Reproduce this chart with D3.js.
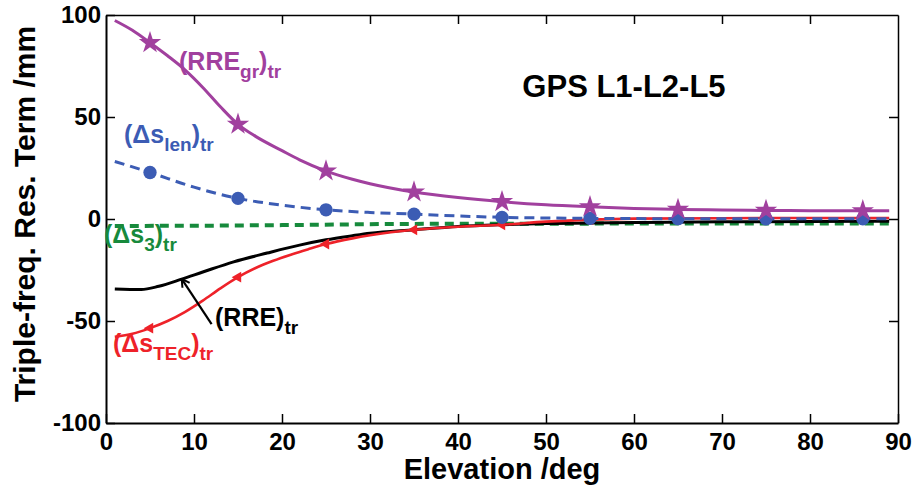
<!DOCTYPE html>
<html><head><meta charset="utf-8">
<script src="https://cdn.jsdelivr.net/npm/d3@7"></script>
<style>
html,body{margin:0;padding:0;background:#fff;}
text{font-family:"Liberation Sans",Arial,Helvetica,sans-serif;}
</style></head>
<body><svg id="chart" width="917" height="486"></svg>
<script>
// ---- data ----
const rreGrElev = [1,3,5,7,9,11,13,15,17,20,22,25,28,30,35,40,45,50,55,60,65,70,75,80,86,89];
const rreGrVals = [97.3,92.5,86.4,80,73,64.5,55,46.4,40.5,33.5,29,23.5,19.5,17.3,13.2,10.5,8.5,7.0,6.0,5.2,4.7,4.4,4.2,4.1,4.0,4.0];
const lenElev = [1,5,10,15,20,25,30,35,40,45,50,55,60,70,80,89];
const lenVals = [28.2,22.8,15.6,10.1,6.8,4.5,3.2,2.4,1.5,0.8,0.5,0.3,0.2,0.1,0.1,0.1];
const s3Elev = [1,10,20,35,50,70,89];
const s3Vals = [-3.4,-3.3,-3.0,-2.4,-2.3,-2.2,-2.2];
const rreElev = [1,4,6,8.6,11,14.5,18.3,22,25,28,30,35,40,45,50,60,70,80,89];
const rreVals = [-34.3,-34.6,-33,-29.5,-26,-21,-16.7,-12.8,-10.2,-8.2,-7.0,-5.3,-3.7,-2.8,-2.2,-1.7,-1.4,-1.2,-1.1];
const tecElev = [1,3,5,7,9,11,13,15,17,19,21,23,25,28,30,35,40,45,50,55,60,70,80,89];
const tecVals = [-57.8,-56.3,-53.5,-50,-45.5,-40,-34,-28.5,-24,-20.5,-17.5,-14.8,-12.3,-9.5,-8,-5.3,-3.8,-2.8,-1.3,-0.3,0.2,0.4,0.5,0.5];
const markElev = [5,15,25,35,45,55,65,75,86];
const xTicks = [0,10,20,30,40,50,60,70,80,90];
const yTicks = [-100,-50,0,50,100];
const xLabel = "Elevation /deg";
const yLabel = "Triple-freq. Res. Term /mm";
const titleText = "GPS L1-L2-L5";

// ---- layout ----
const svg = d3.select("#chart");
const L = 106, R = 898, T = 15, B = 423;
const x = d3.scaleLinear().domain([0,90]).range([L,R]);
const y = d3.scaleLinear().domain([-100,100]).range([B,T]);
const C = {mag:"#a1409e", blue:"#3c5cb4", green:"#178a3c", red:"#ee2229", black:"#000"};

const interp = (xs, vs) => (e) => {
  for (let i=0;i<xs.length-1;i++){ if (e>=xs[i] && e<=xs[i+1]) { const t=(e-xs[i])/(xs[i+1]-xs[i]); return vs[i]+t*(vs[i+1]-vs[i]); } }
  return vs[vs.length-1];
};
const line = d3.line().x(d=>x(d[0])).y(d=>y(d[1])).curve(d3.curveMonotoneX);
function drawLine(xs, vs, color, w, dash){
  svg.append("path").datum(xs.map((e,i)=>[e,vs[i]]))
    .attr("d", line).attr("fill","none").attr("stroke",color).attr("stroke-width",w)
    .attr("stroke-dasharray", dash||null);
}

// lines
drawLine(s3Elev, s3Vals, C.green, 4, "9,6");
drawLine(rreElev, rreVals, C.black, 3);
drawLine(tecElev, tecVals, C.red, 2.6);
const tecF = interp(tecElev, tecVals);
svg.append("g").selectAll("path").data(markElev).join("path")
  .attr("d", d3.symbol(d3.symbolTriangle, 52))
  .attr("transform", d=>`translate(${x(d)},${y(tecF(d))}) rotate(-90)`)
  .attr("fill", C.red);
drawLine(lenElev, lenVals, C.blue, 3, "10,6");
const lenF = interp(lenElev, lenVals);
svg.append("g").selectAll("path").data(markElev).join("path")
  .attr("d", d3.symbol(d3.symbolCircle, 140))
  .attr("transform", d=>`translate(${x(d)},${y(lenF(d))})`)
  .attr("fill", C.blue);
drawLine(rreGrElev, rreGrVals, C.mag, 3);
const grF = interp(rreGrElev, rreGrVals);
svg.append("g").selectAll("path").data(markElev).join("path")
  .attr("d", d3.symbol(d3.symbolStar, 155))
  .attr("transform", d=>`translate(${x(d)},${y(grF(d))})`)
  .attr("fill", C.mag);

// axes
const fmt = d => String(d);
function styleAxis(g, w){
  g.select(".domain").attr("stroke","#000").attr("stroke-width",w);
  g.selectAll(".tick line").attr("stroke","#000").attr("stroke-width",1.5);
  g.selectAll(".tick text").attr("fill","#000").attr("font-size",24).attr("font-weight","bold")
    .attr("font-family",'"Liberation Sans",Arial,sans-serif');
}
svg.append("g").attr("transform",`translate(0,${B})`)
  .call(d3.axisBottom(x).tickValues(xTicks).tickFormat(fmt).tickSizeInner(-9).tickSizeOuter(0).tickPadding(10))
  .call(g=>styleAxis(g,2));
svg.append("g").attr("transform",`translate(${L},0)`)
  .call(d3.axisLeft(y).tickValues(yTicks).tickFormat(fmt).tickSizeInner(-9).tickSizeOuter(0).tickPadding(5))
  .call(g=>styleAxis(g,2));
svg.append("g").attr("transform",`translate(0,${T})`)
  .call(d3.axisTop(x).tickValues(xTicks.slice(1,-1)).tickFormat("").tickSizeInner(-9).tickSizeOuter(0))
  .call(g=>styleAxis(g,1.5));
svg.append("g").attr("transform",`translate(${R},0)`)
  .call(d3.axisRight(y).tickValues(yTicks.slice(1,-1)).tickFormat("").tickSizeInner(-9).tickSizeOuter(0))
  .call(g=>styleAxis(g,1.5));

// axis titles
svg.append("text").attr("x",502).attr("y",479).attr("text-anchor","middle")
  .attr("font-size",29).attr("font-weight","bold").text(xLabel);
svg.append("text").attr("transform","translate(35,214) rotate(-90)").attr("text-anchor","middle")
  .attr("font-size",30).attr("font-weight","bold").text(yLabel);

// chart title
svg.append("text").attr("x",624).attr("y",97).attr("text-anchor","middle")
  .attr("font-size",31).attr("font-weight","bold").text(titleText);

// series labels with subscripts
function subLabel(xp, yp, color, parts){
  const t = svg.append("text").attr("x",xp).attr("y",yp).attr("fill",color)
    .attr("font-size",25).attr("font-weight","bold");
  let shifted = false;
  parts.forEach(([s, sub])=>{
    const ts = t.append("tspan").text(s);
    if (sub && !shifted){ ts.attr("dy",8).attr("font-size",19); shifted = true; }
    else if (sub){ ts.attr("font-size",19); }
    else if (!sub && shifted){ ts.attr("dy",-8); shifted = false; }
  });
}
subLabel(179,70,C.mag,[["(RRE",0],["gr",1],[")",0],["tr",1]]);
subLabel(124,143,C.blue,[["(Δs",0],["len",1],[")",0],["tr",1]]);
subLabel(104,243,C.green,[["(Δs",0],["3",1],[")",0],["tr",1]]);
subLabel(215,326,C.black,[["(RRE)",0],["tr",1]]);
subLabel(113,352,C.red,[["(Δs",0],["TEC",1],[")",0],["tr",1]]);

// arrow for (RRE)tr
const a0 = [x(12.0), y(-51.5)], a1 = [x(8.6), y(-29.3)];
svg.append("line").attr("x1",a0[0]).attr("y1",a0[1]).attr("x2",a1[0]).attr("y2",a1[1])
  .attr("stroke","#000").attr("stroke-width",2.2);
const ang = Math.atan2(a1[1]-a0[1], a1[0]-a0[0]);
[0.5,-0.5].forEach(da=>{
  svg.append("line").attr("x1",a1[0]).attr("y1",a1[1])
    .attr("x2",a1[0]-9*Math.cos(ang+da)).attr("y2",a1[1]-9*Math.sin(ang+da))
    .attr("stroke","#000").attr("stroke-width",2);
});
</script></body></html>
